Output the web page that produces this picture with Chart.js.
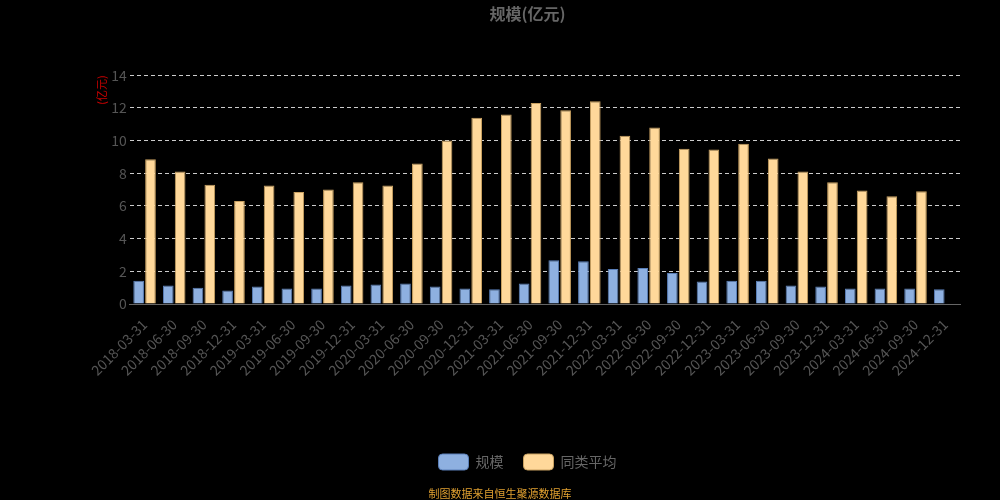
<!DOCTYPE html>
<html>
<head>
<meta charset="utf-8">
<script src="https://cdn.jsdelivr.net/npm/chart.js@4/dist/chart.umd.min.js"></script>
<style>
  body { margin: 0; background: #000; }
  #wrap { width: 1000px; height: 500px; position: relative; }
  #foot { position: absolute; left: 0; width: 1000px; top: 485px; text-align: center;
    color: #e0a030; font: 11px "Noto Sans CJK SC", sans-serif; }
</style>
</head>
<body>
<div id="wrap">
  <canvas id="myChart" width="1000" height="500"></canvas>
  <div id="foot">制图数据来自恒生聚源数据库</div>
</div>
<script>
const dates = ["2018-03-31", "2018-06-30", "2018-09-30", "2018-12-31", "2019-03-31", "2019-06-30", "2019-09-30",
  "2019-12-31", "2020-03-31", "2020-06-30", "2020-09-30", "2020-12-31", "2021-03-31", "2021-06-30",
  "2021-09-30", "2021-12-31", "2022-03-31", "2022-06-30", "2022-09-30", "2022-12-31", "2023-03-31",
  "2023-06-30", "2023-09-30", "2023-12-31", "2024-03-31", "2024-06-30", "2024-09-30", "2024-12-31"];
const scale = [1.43, 1.13, 1.0, 0.83, 1.07, 0.95, 0.95, 1.13, 1.2, 1.25, 1.07, 0.95, 0.9, 1.25,
  2.68, 2.62, 2.14, 2.2, 1.9, 1.37, 1.43, 1.43, 1.13, 1.07, 0.95, 0.95, 0.95, 0.9];
const peerAvg = [8.85, 8.1, 7.3, 6.3, 7.25, 6.85, 7.0, 7.45, 7.25, 8.6, 10.0, 11.4, 11.6, 12.3,
  11.85, 12.4, 10.3, 10.8, 9.5, 9.45, 9.8, 8.9, 8.1, 7.45, 6.95, 6.6, 6.9, null];

const font = "'Noto Sans CJK SC', sans-serif";

new Chart(document.getElementById("myChart"), {
  type: "bar",
  data: {
    labels: dates,
    datasets: [
      { label: "规模", data: scale, backgroundColor: "#8eb0e0", borderColor: "#5a7fb8", borderWidth: 1 },
      { label: "同类平均", data: peerAvg, backgroundColor: "#ffd89a", borderColor: "#c8a060", borderWidth: 1 }
    ]
  },
  options: {
    responsive: false,
    animation: false,
    layout: { padding: { left: 95, right: 40, top: 0, bottom: 20 } },
    datasets: { bar: { categoryPercentage: 0.8, barPercentage: 0.9 } },
    plugins: {
      title: { display: true, text: "规模(亿元)", color: "#666", font: { family: font, size: 16, weight: "bold" }, padding: { top: 4, bottom: 52 } },
      legend: {
        position: "bottom",
        labels: { color: "#666", font: { family: font, size: 14 }, boxWidth: 30, boxHeight: 16, useBorderRadius: true, borderRadius: 4, padding: 20 }
      },
      tooltip: { enabled: false }
    },
    scales: {
      x: {
        grid: { display: false },
        border: { color: "#666" },
        ticks: { color: "#555", font: { family: font, size: 14 }, maxRotation: 45, minRotation: 45, autoSkip: false, padding: 4 },
        afterFit: (s) => { s.height = 130; }
      },
      y: {
        min: 0, max: 14,
        ticks: { stepSize: 2, color: "#555", font: { family: font, size: 14 } },
        grid: { color: "#ccc", drawTicks: false },
        border: { display: false, dash: [4, 3] },
        title: { display: true, text: "(亿元)", align: "end", color: "#c00", font: { family: font, size: 11 }, padding: 0 }
      }
    }
  }
});
</script>
</body>
</html>
